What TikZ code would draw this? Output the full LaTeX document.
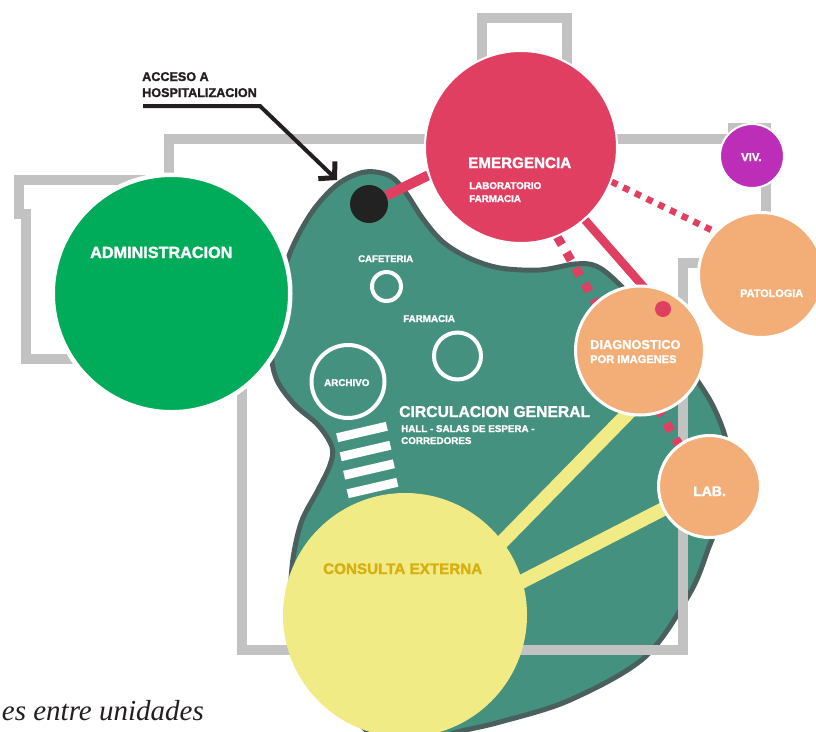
\documentclass[tikz,border=0pt]{standalone}
\usepackage{fontspec}
\setmainfont{Liberation Sans}[BoldFeatures={FakeBold=1.6}]
\newfontfamily\tnr{Liberation Serif}
\usetikzlibrary{arrows.meta}
\definecolor{blobfill}{HTML}{45917F}
\definecolor{blobline}{HTML}{4A605E}
\definecolor{wallgrey}{HTML}{C2C2C2}
\definecolor{admgreen}{HTML}{00AC5A}
\definecolor{emred}{HTML}{E03F62}
\definecolor{vivpurple}{HTML}{BC2DB8}
\definecolor{orangec}{HTML}{F2AE76}
\definecolor{yellowc}{HTML}{F0EB84}
\definecolor{yellowtxt}{HTML}{D6B010}
\definecolor{dotblack}{HTML}{222222}
\definecolor{inkblack}{HTML}{231F20}
\pgfdeclarelayer{blobl}
\pgfdeclarelayer{walll}
\pgfdeclarelayer{linel}
\pgfsetlayers{blobl,walll,linel,main}
\begin{document}
\begin{tikzpicture}[x=1pt,y=-1pt,
  wall/.style={draw=wallgrey, line width=10pt, line join=miter},
  unit/.style={circle, inner sep=0pt, draw=white, line width=3pt},
  ring/.style={circle, inner sep=0pt, draw=white, line width=4pt},
  stripe/.style={fill=white, inner sep=0pt, minimum width=51pt, minimum height=9pt},
  lbl/.style={anchor=base west, inner sep=0pt, text=white, font=\bfseries\fontsize{#1}{#1}\selectfont},
  emsolid/.style={draw=emred, line width=#1},
  emdots/.style={draw=emred, line width=#1, dash pattern=on #1 off #1},
  yline/.style={draw=yellowc, line width=14pt, shorten <=-12pt, shorten >=-12pt}
]
\useasboundingbox (0,0) rectangle (816,731);
\clip (0,0) rectangle (816,731);

% ---------------- circles (units) ----------------
\node[unit, fill=admgreen, line width=4.5pt, minimum size=237.5pt] (adm) at (171.5,293.5) {};
\node[unit, fill=emred, line width=2pt, minimum size=192pt] (emerg) at (521,147) {};
\node[unit, fill=vivpurple, line width=2pt, minimum size=64pt] (viv) at (752,156) {};
\node[unit, fill=orangec, minimum size=125pt] (pat) at (761,275) {};
\node[unit, fill=orangec, minimum size=129pt] (diag) at (640,350.5) {};
\node[unit, fill=orangec, minimum size=102pt] (lab) at (709.5,486.5) {};
\node[circle, inner sep=0pt, fill=yellowc, minimum size=244pt] (cons) at (405,615) {};
\node[circle, inner sep=0pt, fill=dotblack, minimum size=38pt] (dot) at (369,204) {};
\node[circle, inner sep=0pt, fill=emred, minimum size=16pt] (reddot) at (663,309) {};

% small rings inside the circulation area
\node[ring, minimum size=29pt] (cafe) at (386.5,286.5) {};
\node[ring, minimum size=47pt] (farm) at (457.5,356) {};
\node[ring, minimum size=73pt] (arch) at (348,381.5) {};

% stairs stripes
\node[stripe, rotate=13] (st1) at (362,432) {};
\node[stripe, rotate=13] (st2) at (365.5,451) {};
\node[stripe, rotate=13] (st3) at (369,469.5) {};
\node[stripe, rotate=13] (st4) at (372.5,488) {};

% ---------------- circulation blob ----------------
\begin{pgfonlayer}{blobl}
\draw[fill=blobfill, draw=blobline, line width=5pt]
  plot[smooth cycle, tension=0.55] coordinates {
  (365,172) (390,176) (406,193) (423,219) (443,242) (469,258) (500,268)
  (540,270) (575,264) (596,266) (618,283) (660,328) (697,380) (714,408)
  (726,440) (729,475) (722,512) (709,547) (690,593) (645,657) (570,700)
  (500,722) (450,734) (400,752) (352,716) (322,668) (294,605) (292,567)
  (301,523) (318,490) (330,465) (332,447) (318,425) (294,404) (276,378)
  (271,345) (277,300) (290,253) (312,212) (338,184)};
\end{pgfonlayer}

% ---------------- building outline ----------------
\begin{pgfonlayer}{walll}
\draw[wall] (482,75) -- (482,18) -- (567,18) -- (567,75);
\draw[wall] (169,200) -- (169,139) -- (733,139) -- (733,128) -- (766,128) -- (766,225);
\draw[wall] (150,180) -- (19,180) -- (19,214) -- (25.5,214) -- (25.5,359) -- (90,359);
\draw[wall] (241.5,330) -- (241.5,650) -- (683,650) -- (683,263) -- (715,263);
\end{pgfonlayer}

% ---------------- connectors ----------------
\begin{pgfonlayer}{linel}
\draw[emsolid=10pt] (dot) -- (emerg.197);
\draw[emsolid=8.5pt] (emerg) -- (reddot);
\draw[emdots=9pt] (emerg.-68) -- (lab.126);
\draw[emdots=6.5pt] (emerg.-21) -- (pat.137);
\draw[yline] (cons.37) -- (diag.258);
\draw[yline] (cons.16) -- (lab.206);
\end{pgfonlayer}

% ---------------- access arrow ----------------
\coordinate (accstart) at (143,106);
\coordinate (accbend) at (260,106);
\coordinate (acctip) at (337,180);
\draw[draw=inkblack, line width=4pt, -{Straight Barb[length=11pt,width=24pt,line width=5pt]}] (accstart) -- (accbend) -- (acctip);
\node[lbl=12.6, text=inkblack] (tacc1) at (142,81) {ACCESO A};
\node[lbl=12.6, text=inkblack] (tacc2) at (142,97) {HOSPITALIZACION};

% ---------------- labels ----------------
\node[lbl=16.2] (tadm) at (90,258) {ADMINISTRACION};
\node[lbl=15.2] (temerg) at (468,168) {EMERGENCIA};
\node[lbl=9.8] (tlabo) at (469,189) {LABORATORIO};
\node[lbl=9.8] (tfarm1) at (469,202) {FARMACIA};
\node[lbl=11.3] (tviv) at (741,161) {VIV.};
\node[lbl=10.9] (tpat) at (740,297) {PATOLOGIA};
\node[lbl=12.8] (tdiag1) at (590,349) {DIAGNOSTICO};
\node[lbl=11.1] (tdiag2) at (590,363) {POR IMAGENES};
\node[lbl=14] (tlab) at (693,496) {LAB.};
\node[lbl=15.2, text=yellowtxt] (tcons) at (323,574) {CONSULTA EXTERNA};
\node[lbl=9.6] (tcafe) at (358,262) {CAFETERIA};
\node[lbl=9.8] (tfarm2) at (403,322) {FARMACIA};
\node[lbl=9.8] (tarch) at (324,386) {ARCHIVO};
\node[lbl=15.7] (tcirc) at (399,417) {CIRCULACION GENERAL};
\node[lbl=9.8] (thall) at (401,432) {HALL - SALAS DE ESPERA -};
\node[lbl=9.8] (tcorr) at (401,444) {CORREDORES};

% ---------------- caption fragment ----------------
\node[anchor=base east, inner sep=0pt, text=inkblack, font=\tnr\itshape\fontsize{29}{29}\selectfont] (tcap) at (204,720) {es entre unidades};
\end{tikzpicture}
\end{document}
